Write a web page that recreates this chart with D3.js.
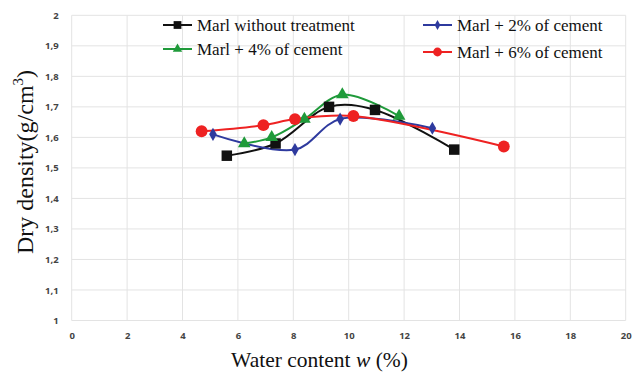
<!DOCTYPE html>
<html><head><meta charset="utf-8">
<script src="https://cdn.jsdelivr.net/npm/d3@7/dist/d3.min.js"></script>
<style>body{margin:0;background:#fff}</style>
</head><body>
<svg id="c" width="635" height="383"></svg>
<script>
const xTicks = [0,2,4,6,8,10,12,14,16,18,20];
const yTicks = [1,1.1,1.2,1.3,1.4,1.5,1.6,1.7,1.8,1.9,2];

const noTreatX = [5.6, 7.36, 9.29, 10.95, 13.81];
const noTreatY = [1.54, 1.58, 1.70, 1.69, 1.56];
const cem2X = [5.1, 8.06, 9.69, 13.02];
const cem2Y = [1.61, 1.56, 1.66, 1.63];
const cem4X = [6.23, 7.22, 8.4, 9.77, 11.82];
const cem4Y = [1.58, 1.60, 1.66, 1.74, 1.67];
const cem6X = [4.69, 6.92, 8.06, 10.17, 15.6];
const cem6Y = [1.62, 1.64, 1.66, 1.67, 1.57];

const seriesNames = ["Marl without treatment","Marl + 2% of cement","Marl + 4% of cement","Marl + 6% of cement"];

const series = [
  {name: seriesNames[0], xs: noTreatX, ys: noTreatY, color: "#111111", sym: d3.symbolSquare, size: 110},
  {name: seriesNames[1], xs: cem2X, ys: cem2Y, color: "#2e3a9e", sym: d3.symbolDiamond, size: 50},
  {name: seriesNames[2], xs: cem4X, ys: cem4Y, color: "#1f9a3a", sym: d3.symbolTriangle, size: 70},
  {name: seriesNames[3], xs: cem6X, ys: cem6Y, color: "#ee2222", sym: d3.symbolCircle, size: 110}
];

const svg = d3.select("#c");
const L = 71.7, R = 625.7, T = 15.3, B = 320.5;
const x = d3.scaleLinear().domain([0,20]).range([L,R]);
const y = d3.scaleLinear().domain([1,2]).range([B,T]);

// grid
svg.append("g").selectAll("line.v").data(xTicks).join("line")
  .attr("x1", d=>x(d)).attr("x2", d=>x(d)).attr("y1", T).attr("y2", B)
  .attr("stroke", "#e3e3e3").attr("stroke-width", 1);
svg.append("g").selectAll("line.h").data(yTicks).join("line")
  .attr("x1", L).attr("x2", R).attr("y1", d=>y(d)).attr("y2", d=>y(d))
  .attr("stroke", "#e3e3e3").attr("stroke-width", 1);

const fmt = d => d3.format(".1~f")(d).replace(".", ",");
// axes
const xa = svg.append("g").attr("transform", `translate(0,${B})`)
  .call(d3.axisBottom(x).tickValues(xTicks).tickSize(0).tickPadding(12).tickFormat(d3.format("d")));
const ya = svg.append("g").attr("transform", `translate(${L},0)`)
  .call(d3.axisLeft(y).tickValues(yTicks).tickSize(0).tickPadding(13).tickFormat(fmt));
[xa, ya].forEach(a => {
  a.select(".domain").remove();
  a.selectAll("text").attr("font-family", "'Open Sans', sans-serif").attr("font-size", 9.5)
    .attr("font-weight", "bold").attr("fill", "#444");
});

// lines
const line = d3.line().x(d=>x(d[0])).y(d=>y(d[1])).curve(d3.curveCatmullRom.alpha(0.5));
series.forEach(s => {
  const pts = s.xs.map((v,i)=>[v, s.ys[i]]);
  svg.append("path").datum(pts).attr("d", line).attr("fill","none")
    .attr("stroke", s.color).attr("stroke-width", 2);
});
series.forEach(s => {
  const pts = s.xs.map((v,i)=>[v, s.ys[i]]);
  svg.append("g").selectAll("path").data(pts).join("path")
    .attr("transform", d=>`translate(${x(d[0])},${y(d[1])})`)
    .attr("d", d3.symbol().type(s.sym).size(s.size)).attr("fill", s.color);
});

// legend
const leg = [
  {s: series[0], lx: 163, ly: 25},
  {s: series[2], lx: 163, ly: 49},
  {s: series[1], lx: 423, ly: 25},
  {s: series[3], lx: 423, ly: 52}
];
leg.forEach(l => {
  const g = svg.append("g");
  g.append("line").attr("x1", l.lx).attr("x2", l.lx+29).attr("y1", l.ly).attr("y2", l.ly)
    .attr("stroke", l.s.color).attr("stroke-width", 2);
  g.append("path").attr("transform", `translate(${l.lx+14.5},${l.ly})`)
    .attr("d", d3.symbol().type(l.s.sym).size(l.s.size*0.55)).attr("fill", l.s.color);
  g.append("text").attr("x", l.lx+34).attr("y", l.ly+5.5).text(l.s.name)
    .attr("font-family", "'Liberation Serif', 'Times New Roman', serif").attr("font-size", 17).attr("fill", "#111");
});

// titles
svg.append("text").attr("transform", "translate(33,162) rotate(-90)").attr("text-anchor", "middle")
  .attr("font-family", "'Liberation Serif', serif").attr("font-size", 24).attr("fill", "#111")
  .call(t => {
    t.append("tspan").text("Dry density(g/cm");
    t.append("tspan").text("3").attr("font-size", 15).attr("dy", -10);
    t.append("tspan").text(")").attr("dy", 10);
  });
svg.append("text").attr("x", 319.5).attr("y", 367).attr("text-anchor", "middle")
  .attr("font-family", "'Liberation Serif', serif").attr("font-size", 21.5).attr("fill", "#111")
  .call(t => {
    t.append("tspan").text("Water content ");
    t.append("tspan").text("w").attr("font-style", "italic");
    t.append("tspan").text(" (%)");
  });
</script>
</body></html>
